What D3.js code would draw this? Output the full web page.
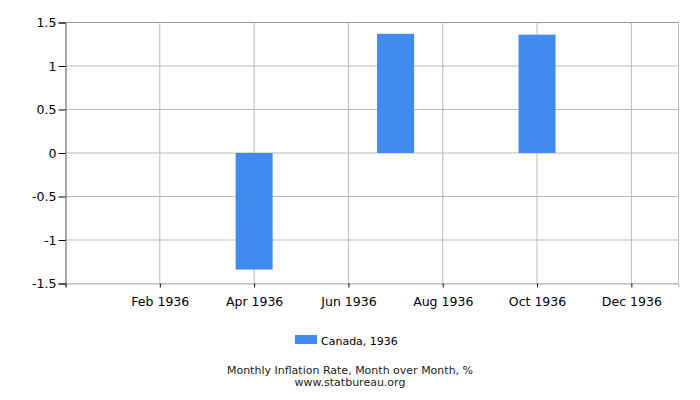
<!DOCTYPE html>
<html>
<head>
<meta charset="utf-8">
<script src="https://cdn.jsdelivr.net/npm/d3@7"></script>
<style>
  body { margin: 0; background: #fff; }
  text { font-family: "DejaVu Sans", Verdana, sans-serif; }
</style>
</head>
<body>
<div id="chart"></div>
<script>
// data
let months = ["Jan", "Feb", "Mar", "Apr", "May", "Jun", "Jul", "Aug", "Sep", "Oct", "Nov", "Dec"];
let values = [0, 0, 0, -1.34, 0, 0, 1.37, 0, 0, 1.36, 0, 0];
let tickMonths = [1, 3, 5, 7, 9, 11];
let yTicks = [-1.5, -1, -0.5, 0, 0.5, 1, 1.5];
let seriesName = "Canada, 1936";
let year = 1936;

let width = 700, height = 400;
let plotLeft = 65.5, plotRight = 678.5, plotTop = 22.5, plotBottom = 283.5;

let xScale = d3.scaleLinear().domain([-1, 12]).range([plotLeft, plotRight]);
let yScale = d3.scaleLinear().domain([-1.5, 1.5]).range([plotBottom, plotTop]);
let barW = 37;

let svg = d3.select("#chart").append("svg")
  .attr("width", width)
  .attr("height", height);

// grid
svg.append("g").selectAll("line")
  .data(yTicks)
  .enter().append("line")
  .attr("x1", plotLeft).attr("x2", plotRight)
  .attr("y1", d => yScale(d)).attr("y2", d => yScale(d))
  .attr("stroke", d => d === 1.5 ? "#999" : "#bbb");

svg.append("g").selectAll("line")
  .data(tickMonths)
  .enter().append("line")
  .attr("x1", d => xScale(d)).attr("x2", d => xScale(d))
  .attr("y1", plotTop).attr("y2", plotBottom)
  .attr("stroke", "#bbb");

svg.append("line")
  .attr("x1", plotRight).attr("x2", plotRight)
  .attr("y1", plotTop).attr("y2", plotBottom)
  .attr("stroke", "#bbb");

// bars
svg.append("g").selectAll("rect")
  .data(values.map((v, i) => ({ i: i, v: v })).filter(d => d.v !== 0))
  .enter().append("rect")
  .attr("x", d => xScale(d.i) - barW / 2)
  .attr("width", barW)
  .attr("y", d => yScale(Math.max(0, d.v)))
  .attr("height", d => Math.abs(yScale(d.v) - yScale(0)))
  .attr("fill", "#418bee");

// axes
let yAxis = d3.axisLeft(yScale)
  .tickValues(yTicks)
  .tickSize(7)
  .tickFormat(d => String(d));
let yG = svg.append("g")
  .attr("transform", "translate(" + plotLeft + ",0)")
  .call(yAxis);
yG.select(".domain").attr("stroke", "#555");
yG.selectAll(".tick line").attr("stroke", "#000");
yG.selectAll("text").attr("font-size", 12.5).attr("fill", "#000").attr("dx", 1);

let xAxis = d3.axisBottom(xScale)
  .tickValues([-1].concat(tickMonths))
  .tickSize(4)
  .tickFormat(d => d < 0 ? "" : months[d] + " " + year);
let xG = svg.append("g")
  .attr("transform", "translate(0," + plotBottom + ")")
  .call(xAxis);
xG.select(".domain").attr("stroke", "#bbb");
xG.selectAll(".tick line").attr("stroke", "#000");
xG.selectAll("text").attr("font-size", 12.5).attr("fill", "#000").attr("dy", "1.25em");

// legend
svg.append("rect")
  .attr("x", 295).attr("y", 335)
  .attr("width", 22).attr("height", 9)
  .attr("fill", "#418bee");
svg.append("text")
  .attr("x", 321).attr("y", 344.5)
  .attr("font-size", 11)
  .attr("fill", "#000")
  .text(seriesName);

// caption
svg.append("text")
  .attr("x", 350).attr("y", 374)
  .attr("text-anchor", "middle")
  .attr("font-size", 11)
  .attr("fill", "#222")
  .text("Monthly Inflation Rate, Month over Month, %");
svg.append("text")
  .attr("x", 350).attr("y", 386)
  .attr("text-anchor", "middle")
  .attr("font-size", 11)
  .attr("fill", "#222")
  .text("www.statbureau.org");
</script>
</body>
</html>
